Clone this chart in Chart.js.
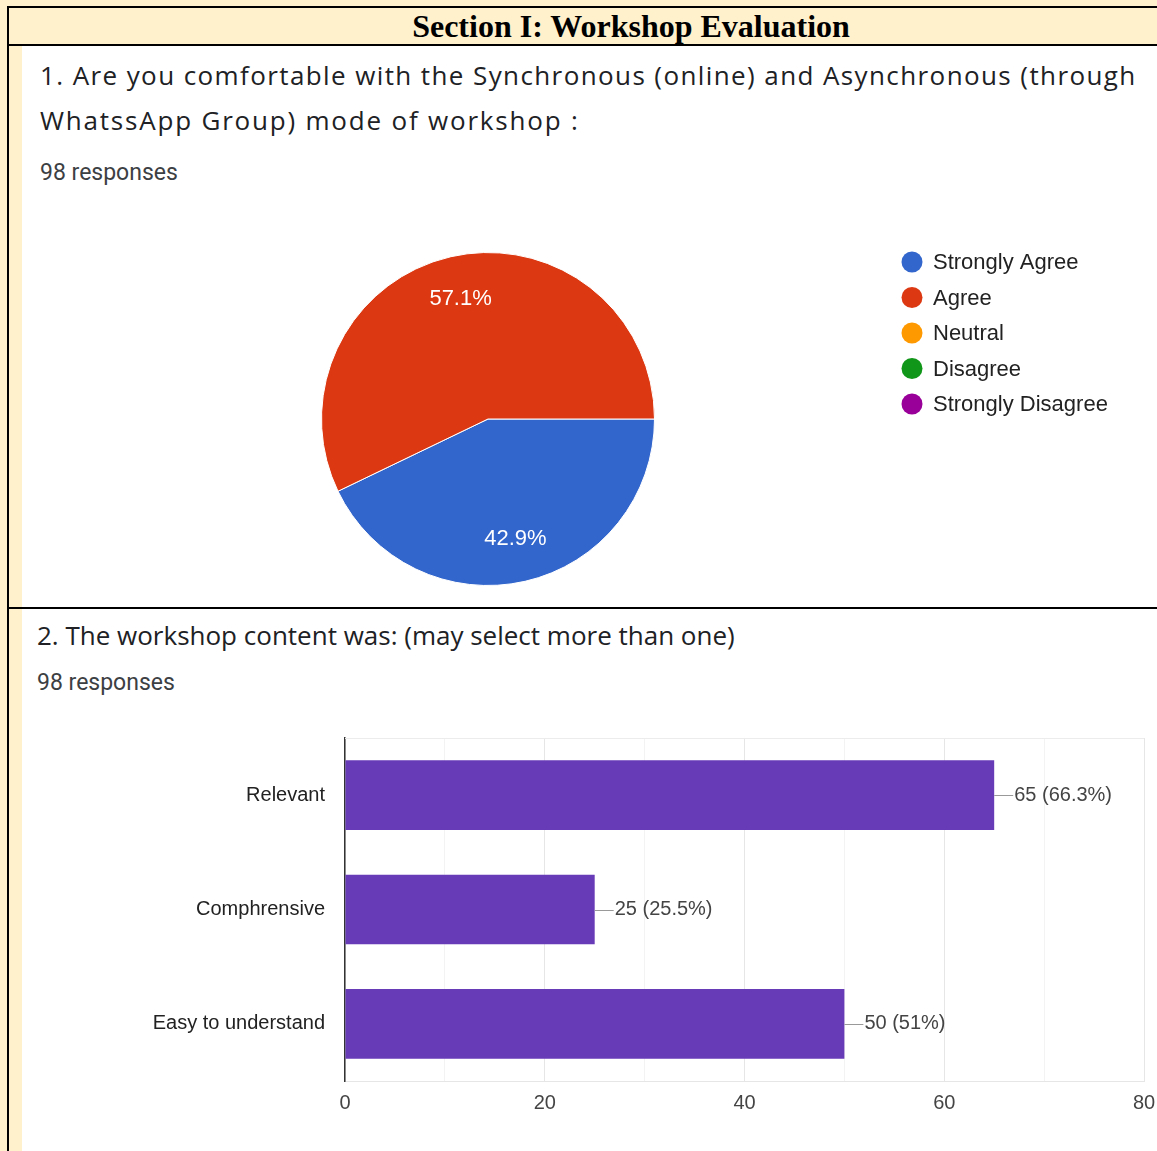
<!DOCTYPE html>
<html>
<head>
<meta charset="utf-8">
<script src="https://cdn.jsdelivr.net/npm/chart.js@4.4.0/dist/chart.umd.min.js"></script>
<style>
  body { margin: 0; background: #fff1cc; width: 1157px; height: 1151px; position: relative; overflow: hidden; }
  .line { position: absolute; background: #000; }
  .panel { position: absolute; left: 22px; top: 46px; width: 1135px; height: 1105px; background: #fff; }
  .hdr { position: absolute; left: 8px; top: 7px; width: 1246px; line-height: 38px; text-align: center;
         font-family: "Liberation Serif", serif; font-weight: bold; font-size: 32px; color: #000; }
  .q { position: absolute; font-family: "Open Sans", sans-serif; font-size: 26px; color: #202124; line-height: 45px; white-space: nowrap; }
  .resp { position: absolute; font-family: Roboto, sans-serif; font-size: 23px; color: #3c4043; line-height: 27px; }
  canvas { position: absolute; }
</style>
</head>
<body>
<div class="panel"></div>
<div class="line" style="left:7px;top:6px;width:1150px;height:2px"></div>
<div class="line" style="left:7px;top:6px;width:2px;height:1145px"></div>
<div class="line" style="left:7px;top:44px;width:1150px;height:2px"></div>
<div class="line" style="left:7px;top:607px;width:1150px;height:2px"></div>
<div class="hdr">Section I: Workshop Evaluation</div>

<div class="q" style="left:40px;top:53px;letter-spacing:1.4px">1. Are you comfortable with the Synchronous (online) and Asynchronous (through<br><span style="letter-spacing:1.8px">WhatssApp Group) mode of workshop :</span></div>
<div class="resp" style="left:40px;top:159px">98 responses</div>
<canvas id="pie" width="1135" height="405" style="left:22px;top:200px"></canvas>

<div class="q" style="left:37px;top:613px">2. The workshop content was: (may select more than one)</div>
<div class="resp" style="left:37px;top:669px">98 responses</div>
<canvas id="bar" width="1135" height="451" style="left:22px;top:700px"></canvas>

<script>
// question 1
const pieLabels = ["Strongly Agree", "Agree", "Neutral", "Disagree", "Strongly Disagree"];
const pieValues = [42, 56, 0, 0, 0];
const pieShares = ["42.9%", "57.1%", "", "", ""];
const pieColors = ["#3366cc", "#dc3912", "#ff9900", "#109618", "#990099"];

// question 2
const barLabels = ["Relevant", "Comphrensive", "Easy to understand"];
const barValues = [65, 25, 50];
const barShares = ["66.3%", "25.5%", "51%"];
const xTicks = [0, 20, 40, 60, 80];

const chartFont = '"Liberation Sans", Arial, sans-serif';

// slice labels inside the pie
const sliceText = {
  id: "sliceText",
  afterDatasetsDraw(chart) {
    const ctx = chart.ctx;
    const arcs = chart.getDatasetMeta(0).data;
    ctx.save();
    ctx.fillStyle = "#fff";
    ctx.font = "22px " + chartFont;
    ctx.textAlign = "center";
    ctx.textBaseline = "middle";
    arcs.forEach((a, i) => {
      if (!pieValues[i]) return;
      const mid = (a.startAngle + a.endAngle) / 2;
      const r = a.outerRadius * 0.74;
      ctx.fillText(pieShares[i], a.x + r * Math.cos(mid), a.y + r * Math.sin(mid));
    });
    ctx.restore();
  }
};

// legend on the right, top aligned
const sideLegend = {
  id: "sideLegend",
  afterDraw(chart) {
    const ctx = chart.ctx;
    ctx.save();
    ctx.font = "22px " + chartFont;
    ctx.textBaseline = "middle";
    pieLabels.forEach((lab, i) => {
      const y = 62 + i * 35.5;
      ctx.fillStyle = pieColors[i];
      ctx.beginPath();
      ctx.arc(890, y, 10.5, 0, Math.PI * 2);
      ctx.fill();
      ctx.fillStyle = "#222";
      ctx.fillText(lab, 911, y + 1);
    });
    ctx.restore();
  }
};

new Chart(document.getElementById("pie"), {
  type: "pie",
  data: {
    labels: pieLabels,
    datasets: [{ data: pieValues, backgroundColor: pieColors, borderColor: "#fff", borderWidth: 1, hoverOffset: 0 }]
  },
  options: {
    responsive: false,
    animation: false,
    rotation: 90,
    layout: { padding: { left: 299, right: 502, top: 52, bottom: 19 } },
    plugins: { legend: { display: false }, tooltip: { enabled: false } }
  },
  plugins: [sliceText, sideLegend]
});

// value callouts next to bars, plus top frame
const barText = {
  id: "barText",
  afterDatasetsDraw(chart) {
    const ctx = chart.ctx;
    const a = chart.chartArea;
    ctx.save();
    ctx.strokeStyle = "#ececec";
    ctx.lineWidth = 1;
    ctx.beginPath();
    ctx.moveTo(a.left, a.top + 0.5);
    ctx.lineTo(a.right, a.top + 0.5);
    ctx.stroke();
    ctx.font = "20px " + chartFont;
    ctx.textBaseline = "middle";
    chart.getDatasetMeta(0).data.forEach((b, i) => {
      ctx.strokeStyle = "#999";
      ctx.beginPath();
      ctx.moveTo(b.x, Math.round(b.y) + 0.5);
      ctx.lineTo(b.x + 19, Math.round(b.y) + 0.5);
      ctx.stroke();
      ctx.fillStyle = "#444";
      ctx.fillText(barValues[i] + " (" + barShares[i] + ")", b.x + 20, b.y);
    });
    ctx.restore();
  }
};

new Chart(document.getElementById("bar"), {
  type: "bar",
  data: {
    labels: barLabels,
    datasets: [{ data: barValues, backgroundColor: "#673ab7", borderWidth: 0, barPercentage: 0.61, categoryPercentage: 1 }]
  },
  options: {
    indexAxis: "y",
    responsive: false,
    animation: false,
    layout: { padding: { top: 38, right: 13, bottom: 0, left: 0 } },
    scales: {
      x: {
        min: 0, max: 80,
        afterFit(axis) { axis.height = 70; axis.paddingLeft = 0; axis.paddingRight = 0; },
        ticks: {
          stepSize: 10, autoSkip: false, padding: 10, color: "#444",
          font: { family: chartFont, size: 20 },
          callback: v => xTicks.includes(v) ? String(v) : ""
        },
        grid: {
          drawTicks: false,
          color: c => xTicks.includes(c.tick.value) ? "#e6e6e6" : "#f3f3f3"
        },
        border: { color: "#e6e6e6" }
      },
      y: {
        afterFit(axis) { axis.width = 323; },
        ticks: { padding: 20, color: "#222", font: { family: chartFont, size: 20 } },
        grid: { display: false, drawTicks: false },
        border: { color: "#333", width: 1.5 }
      }
    },
    plugins: { legend: { display: false }, tooltip: { enabled: false } }
  },
  plugins: [barText]
});
</script>
</body>
</html>
